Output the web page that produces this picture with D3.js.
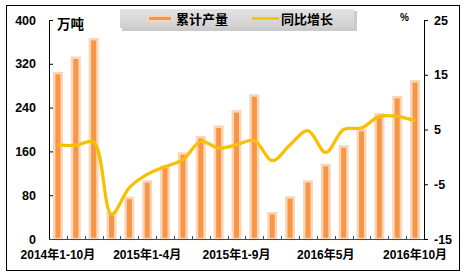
<!DOCTYPE html>
<html><head><meta charset="utf-8">
<script src="https://cdn.jsdelivr.net/npm/d3@7"></script>
<style>
body{margin:0;background:#fff;}
svg{display:block;font-family:"Liberation Sans",Arial,"Noto Sans CJK SC",sans-serif;font-weight:bold;}
</style></head><body>
<svg id="c" width="467" height="278"></svg>
<script>
const categories = ["2014年1-10月","2014年1-11月","2014年1-12月","2015年1-2月","2015年1-3月","2015年1-4月","2015年1-5月","2015年1-6月","2015年1-7月","2015年1-8月","2015年1-9月","2015年1-10月","2016年2月","2016年3月","2016年4月","2016年5月","2016年6月","2016年7月","2016年8月","2016年9月","2016年10月"];
const output = [303,331,365,48,75,105,132,156,186,205,233,262,47,76,105,135,169,199,228,259,288];
const growth = [2.2,2.1,2.7,-10.5,-5.6,-3.2,-1.8,-0.5,2.8,1.6,2.2,3.0,-0.7,2.2,4.8,0.8,5.0,5.3,7.4,7.4,6.6];
const leftTicks = [0,80,160,240,320,400];
const rightTicks = [-15,-5,5,15,25];
const labelCats = ["2014年1-10月","2015年1-4月","2015年1-9月","2016年5月","2016年10月"];
const seriesNames = ["累计产量","同比增长"];

const svg = d3.select("#c");
const L=49, R=424, T=20, B=239;
const x = d3.scaleBand().domain(categories).range([L,R]);
const yL = d3.scaleLinear().domain([0,400]).range([B,T]);
const yR = d3.scaleLinear().domain([-15,25]).range([B,T]);

// outer border
svg.append("rect").attr("x",6.5).attr("y",5.5).attr("width",453).attr("height",265)
  .attr("fill","#fff").attr("stroke","#000").attr("stroke-width",1);

// bars
const bw = 7.5;
svg.append("g").selectAll("rect").data(categories).join("rect")
  .attr("x",d=>x(d)+x.bandwidth()/2-bw/2)
  .attr("y",(d,i)=>yL(output[i]))
  .attr("width",bw)
  .attr("height",(d,i)=>B-yL(output[i]))
  .attr("fill","#F79646").attr("stroke","#FBD5B6").attr("stroke-width",2.5);

// line
const line = d3.line().x((d,i)=>x(categories[i])+x.bandwidth()/2).y(d=>yR(d)).curve(d3.curveCatmullRom.alpha(0.5));
svg.append("path").datum(growth).attr("d",line).attr("fill","none")
  .attr("stroke","#F8C000").attr("stroke-width",3.2).attr("stroke-linejoin","round");

// left axis
const gl = svg.append("g").attr("transform",`translate(${L},0)`)
  .call(d3.axisRight(yL).tickValues(leftTicks).tickSize(4).tickFormat(""));
gl.select(".domain").attr("stroke","#000").attr("d",`M4,${T}.5H0.5V${B}`);
gl.selectAll(".tick line").attr("stroke","#000");
svg.append("g").selectAll("text").data(leftTicks).join("text")
  .attr("x",36).attr("y",d=>yL(d)+4.5).attr("text-anchor","end")
  .attr("font-size",12.5).attr("fill","#000").text(d=>d);

// right axis
const gr = svg.append("g").attr("transform",`translate(${R},0)`)
  .call(d3.axisRight(yR).tickValues(rightTicks).tickSize(4).tickFormat(""));
gr.select(".domain").attr("stroke","#000").attr("d",`M4,${T}.5H0.5V${B}`);
gr.selectAll(".tick line").attr("stroke","#000");
svg.append("g").selectAll("text").data(rightTicks).join("text")
  .attr("x",434).attr("y",d=>yR(d)+4.5).attr("text-anchor","start")
  .attr("font-size",12.5).attr("fill","#000").text(d=>d);

// bottom axis
const gb = svg.append("g").attr("transform",`translate(0,${B})`);
gb.append("line").attr("x1",L).attr("x2",R).attr("y1",0.5).attr("y2",0.5).attr("stroke","#2F4F5F").attr("stroke-width",1.2);
gb.selectAll("line.t").data(categories.slice(1)).join("line").attr("class","t")
  .attr("x1",d=>Math.round(x(d))+0.5).attr("x2",d=>Math.round(x(d))+0.5)
  .attr("y1",0).attr("y2",-3).attr("stroke","#2F4F5F");
svg.append("g").selectAll("text").data(labelCats).join("text")
  .attr("x",d=>x(d)+x.bandwidth()/2).attr("y",259).attr("text-anchor","middle")
  .attr("font-size",12).attr("fill","#000").text(d=>d);

// unit labels
svg.append("text").attr("x",57).attr("y",29).attr("font-size",13.5).attr("fill","#000").text("万吨");
svg.append("text").attr("x",400).attr("y",21).attr("font-size",10).attr("fill","#000").text("%");

// legend
const defs = svg.append("defs");
const grad = defs.append("linearGradient").attr("id","lg").attr("x1",0).attr("x2",0).attr("y1",0).attr("y2",1);
grad.append("stop").attr("offset","0%").attr("stop-color","#E4E4E4");
grad.append("stop").attr("offset","100%").attr("stop-color","#CFCFCF");
svg.append("rect").attr("x",122).attr("y",11).attr("width",235).attr("height",20).attr("fill","#A8A8A8").attr("opacity",0.6);
svg.append("rect").attr("x",120).attr("y",9).attr("width",234).attr("height",19).attr("fill","url(#lg)");
svg.append("rect").attr("x",148).attr("y",16).attr("width",24).attr("height",5)
  .attr("fill","#F79646").attr("stroke","#FBD5B6").attr("stroke-width",2);
svg.append("text").attr("x",176).attr("y",23.5).attr("font-size",13).attr("fill","#000").text(seriesNames[0]);
svg.append("line").attr("x1",252).attr("x2",279).attr("y1",18.5).attr("y2",18.5).attr("stroke","#F8C000").attr("stroke-width",2.5);
svg.append("text").attr("x",281).attr("y",23.5).attr("font-size",13).attr("fill","#000").text(seriesNames[1]);
</script></body></html>
